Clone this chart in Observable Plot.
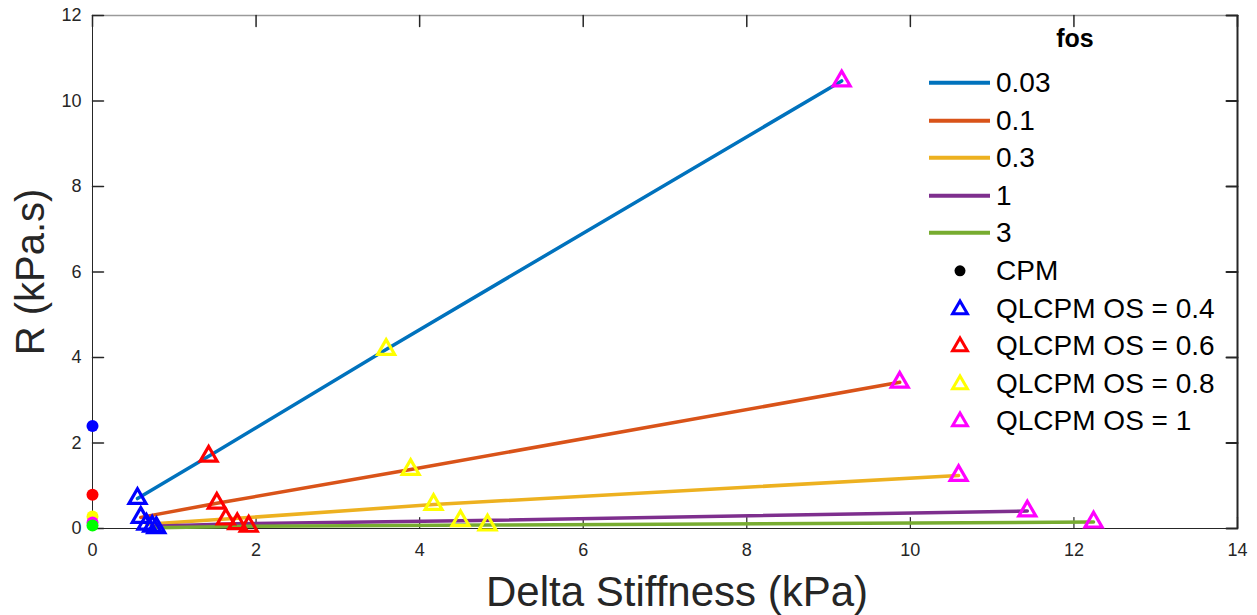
<!DOCTYPE html>
<html><head><meta charset="utf-8">
<script src="https://cdn.jsdelivr.net/npm/d3@7"></script>
<script src="https://cdn.jsdelivr.net/npm/@observablehq/plot@0.6"></script>
<style>
body{margin:0;background:#fff;}
#wrap{position:relative;width:1257px;height:615px;font-family:"Liberation Sans",Arial,Helvetica,sans-serif;color:#000;}
#legend{position:absolute;left:920px;top:64px;}
.row{display:flex;align-items:center;height:37.6px;}
.row svg{flex:none;}
.row span{font-size:28px;line-height:37.6px;white-space:nowrap;}
#ltitle{position:absolute;left:1025px;width:100px;top:24px;text-align:center;font-weight:bold;font-size:25px;}
</style></head><body><div id="wrap"></div>
<script>
// fos levels (lines)
const fosLabels = ["0.03", "0.1", "0.3", "1", "3"];
const fosColors = ["#0072BD", "#D95319", "#EDB120", "#7E2F8E", "#77AC30"];
// QLCPM overshoot levels (triangle markers)
const osLabels = ["QLCPM OS = 0.4", "QLCPM OS = 0.6", "QLCPM OS = 0.8", "QLCPM OS = 1"];
const osColors = ["#0000FF", "#FF0000", "#FFFF00", "#FF00FF"];
// Delta stiffness (kPa) and R (kPa.s) per fos, ordered OS = 0.4, 0.6, 0.8, 1
const stiff_fos003 = [0.55, 1.42, 3.59, 9.16];
const r_fos003     = [0.70, 1.69, 4.19, 10.47];
const stiff_fos01  = [0.59, 1.52, 3.89, 9.87];
const r_fos01      = [0.26, 0.59, 1.38, 3.42];
const stiff_fos03  = [0.66, 1.63, 4.17, 10.59];
const r_fos03      = [0.10, 0.22, 0.56, 1.24];
const stiff_fos1   = [0.73, 1.77, 4.50, 11.43];
const r_fos1       = [0.05, 0.11, 0.18, 0.41];
const stiff_fos3   = [0.78, 1.91, 4.83, 12.24];
const r_fos3       = [0.02, 0.05, 0.08, 0.15];
// CPM points (at zero delta stiffness)
const cpmStiff  = [0, 0, 0, 0, 0];
const cpmR      = [2.40, 0.79, 0.28, 0.14, 0.07];
const cpmColors = ["#0000FF", "#FF0000", "#FFFF00", "#FF00FF", "#00FF00"];
// ticks
const xTicks = [0, 2, 4, 6, 8, 10, 12, 14];
const yTicks = [0, 2, 4, 6, 8, 10, 12];

const stiffBy = [stiff_fos003, stiff_fos01, stiff_fos03, stiff_fos1, stiff_fos3];
const rBy = [r_fos003, r_fos01, r_fos03, r_fos1, r_fos3];
const pts = fosLabels.flatMap((f, i) => stiffBy[i].map((x, j) => ({
  fos: f, x, y: rBy[i][j], lineColor: fosColors[i], os: osLabels[j], osColor: osColors[j], j
})));
const triPts = d3.sort(pts, d => d.j);
const cpm = cpmStiff.map((x, i) => ({x, y: cpmR[i], c: cpmColors[i]}));

const tickColor = "#262626";
const tickShape = {draw(context, l) { context.moveTo(0, 0); context.lineTo(0, -l); }};
const xMin = xTicks[0], xMax = xTicks[xTicks.length - 1];
const yMin = yTicks[0], yMax = yTicks[yTicks.length - 1];

const chart = Plot.plot({
  width: 1257, height: 615,
  marginLeft: 92, marginRight: 20, marginTop: 15, marginBottom: 87,
  x: {domain: [xMin, xMax]},
  y: {domain: [yMin, yMax]},
  style: {fontFamily: "'Liberation Sans', Arial, Helvetica, sans-serif", fontSize: "18px", color: tickColor, background: "white", overflow: "visible"},
  marks: [
    Plot.ruleY([yMax], {stroke: "#9a9a9a", strokeWidth: 1.5}),
    Plot.ruleX([xMax], {stroke: tickColor, strokeWidth: 2}),
    Plot.ruleX([xMin], {stroke: tickColor, strokeWidth: 1}),
    Plot.ruleY([yMin], {stroke: tickColor, strokeWidth: 1}),
    // inward ticks on all four sides
    Plot.vector(xTicks, {x: d => d, y: yMin, length: 11, rotate: 0, anchor: "start", shape: tickShape, stroke: tickColor, strokeWidth: 1.2}),
    Plot.vector(xTicks, {x: d => d, y: yMax, length: 11, rotate: 180, anchor: "start", shape: tickShape, stroke: tickColor, strokeWidth: 1.5}),
    Plot.vector(yTicks, {y: d => d, x: xMin, length: 11, rotate: 90, anchor: "start", shape: tickShape, stroke: tickColor, strokeWidth: 1.5}),
    Plot.vector(yTicks, {y: d => d, x: xMax, length: 11, rotate: -90, anchor: "start", shape: tickShape, stroke: tickColor, strokeWidth: 2}),
    Plot.axisX({anchor: "bottom", ticks: xTicks, tickSize: 0, tickPadding: 15, label: null}),
    Plot.axisY({anchor: "left", ticks: yTicks, tickSize: 0, tickPadding: 11, label: null}),
    Plot.line(pts, {x: "x", y: "y", z: "fos", stroke: "lineColor", strokeWidth: 3.5}),
    Plot.dot(cpm, {x: "x", y: "y", fill: "c", r: 6}),
    Plot.dot(triPts, {x: "x", y: "y", symbol: "triangle", stroke: "osColor", fill: "none", r: 6.3, strokeWidth: 3.2, strokeLinejoin: "miter"}),
    Plot.text(["Delta Stiffness (kPa)"], {frameAnchor: "bottom", textAnchor: "middle", lineAnchor: "bottom", dy: 77, dx: 12, fontSize: 42, fill: tickColor}),
    Plot.text(["R (kPa.s)"], {frameAnchor: "left", textAnchor: "middle", lineAnchor: "bottom", rotate: -90, dx: -49, dy: 0, fontSize: 40, fill: tickColor})
  ]
});
const wrap = document.getElementById("wrap");
wrap.appendChild(chart);

// legend
const title = document.createElement("div");
title.id = "ltitle"; title.textContent = "fos";
wrap.appendChild(title);
const legend = document.createElement("div");
legend.id = "legend";
const ns = "http://www.w3.org/2000/svg";
function row(drawFn, label) {
  const r = document.createElement("div"); r.className = "row";
  const s = document.createElementNS(ns, "svg");
  s.setAttribute("width", 76); s.setAttribute("height", 37.6);
  drawFn(s);
  const t = document.createElement("span"); t.textContent = label;
  r.appendChild(s); r.appendChild(t); legend.appendChild(r);
}
fosLabels.forEach((f, i) => row(s => {
  const l = document.createElementNS(ns, "line");
  l.setAttribute("x1", 9); l.setAttribute("x2", 70); l.setAttribute("y1", 18.8); l.setAttribute("y2", 18.8);
  l.setAttribute("stroke", fosColors[i]); l.setAttribute("stroke-width", 4);
  s.appendChild(l);
}, f));
row(s => {
  const c = document.createElementNS(ns, "circle");
  c.setAttribute("cx", 40); c.setAttribute("cy", 18.8); c.setAttribute("r", 5.5); c.setAttribute("fill", "#000");
  s.appendChild(c);
}, "CPM");
osLabels.forEach((o, i) => row(s => {
  const p = document.createElementNS(ns, "path");
  p.setAttribute("d", d3.symbol(d3.symbolTriangle, Math.PI * 5.5 * 5.5)());
  p.setAttribute("transform", "translate(40,19.5)");
  p.setAttribute("fill", "none"); p.setAttribute("stroke", osColors[i]); p.setAttribute("stroke-width", 3);
  s.appendChild(p);
}, o));
wrap.appendChild(legend);
</script></body></html>
